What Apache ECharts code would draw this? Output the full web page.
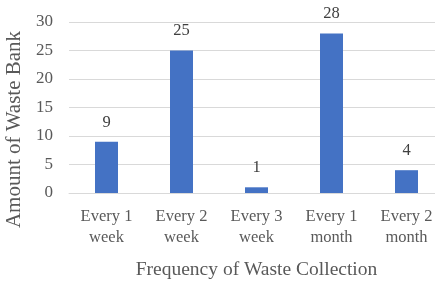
<!DOCTYPE html>
<html>
<head>
<meta charset="utf-8">
<script src="https://cdn.jsdelivr.net/npm/echarts@6/dist/echarts.min.js"></script>
<style>
  html, body { margin: 0; padding: 0; background: #fff; }
  #chart { width: 435px; height: 284px; }
</style>
</head>
<body>
<div id="chart"></div>
<script>
  // categories and values
  const categories = ['Every 1\nweek', 'Every 2\nweek', 'Every 3\nweek', 'Every 1\nmonth', 'Every 2\nmonth']
  const wasteBanks = [9, 25, 1, 28, 4]
  const yTicks = [0, 5, 10, 15, 20, 25, 30]

  const font = 'Liberation Serif'
  const chart = echarts.init(document.getElementById('chart'))

  chart.setOption({
    animation: false,
    grid: {
      left: 69,
      top: 22,
      width: 375,
      height: 171,
      outerBoundsMode: 'none',
      containLabel: false
    },
    xAxis: {
      type: 'category',
      data: categories,
      name: 'Frequency of Waste Collection',
      nameLocation: 'middle',
      nameGap: 67,
      nameTextStyle: { fontFamily: font, fontSize: 19.5, color: '#595959' },
      axisLine: { lineStyle: { color: '#d9d9d9', width: 1 } },
      axisTick: { show: false },
      axisLabel: {
        interval: 0,
        margin: 13,
        fontFamily: font,
        fontSize: 16.5,
        lineHeight: 21,
        color: '#595959'
      }
    },
    yAxis: {
      type: 'value',
      min: yTicks[0],
      max: yTicks[yTicks.length - 1],
      interval: 5,
      name: 'Amount of Waste Bank',
      nameLocation: 'middle',
      nameGap: 36,
      nameTextStyle: { fontFamily: font, fontSize: 21, color: '#595959', padding: [0, 44, 0, 0] },
      axisLine: { show: false },
      axisTick: { show: false },
      axisLabel: { margin: 16, fontFamily: font, fontSize: 17, color: '#595959' },
      splitLine: { lineStyle: { color: '#d9d9d9', width: 1 } }
    },
    series: [{
      type: 'bar',
      data: wasteBanks,
      barWidth: 23,
      itemStyle: { color: '#4472c4' },
      label: {
        show: true,
        position: 'top',
        distance: 11,
        fontFamily: font,
        fontSize: 16.5,
        color: '#404040'
      }
    }]
  })
</script>
</body>
</html>
